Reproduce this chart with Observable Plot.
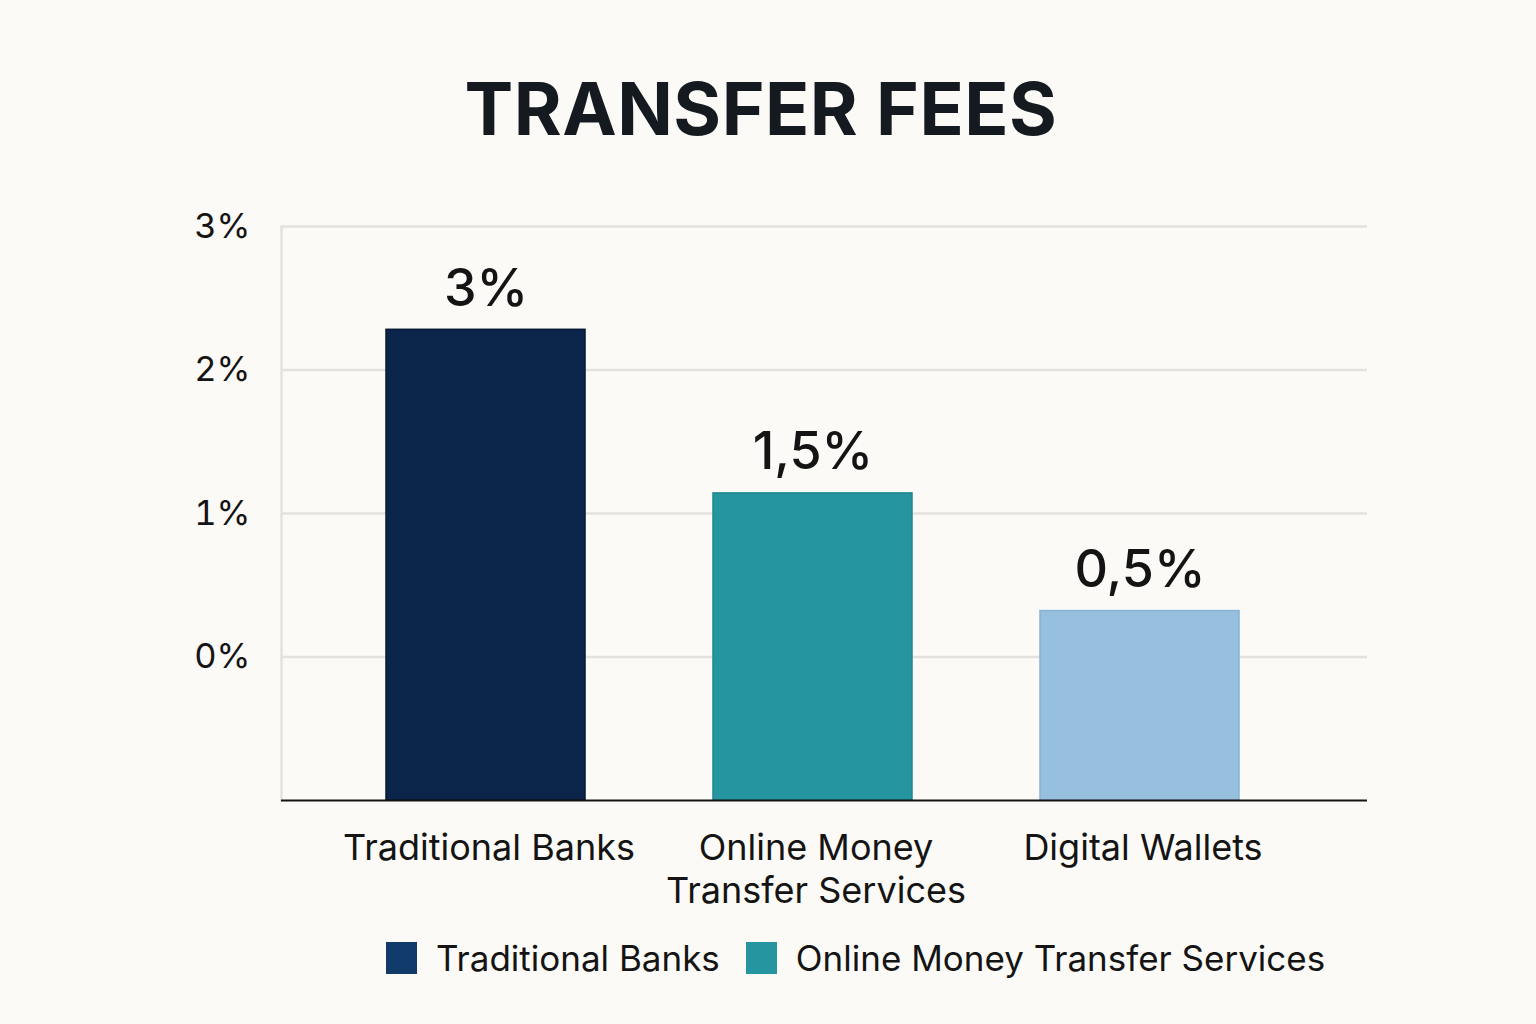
<!DOCTYPE html>
<html><head><meta charset="utf-8">
<script src="https://cdn.jsdelivr.net/npm/d3@7"></script>
<script src="https://cdn.jsdelivr.net/npm/@observablehq/plot@0.6"></script>
<style>
html,body{margin:0;padding:0;background:#fbfaf7;}
body{width:1536px;height:1024px;overflow:hidden;position:relative;font-family:Inter,"Noto Sans",sans-serif;color:#141414;}
#title{position:absolute;top:72px;left:-7px;width:1536px;text-align:center;font-size:73px;line-height:73px;font-weight:700;letter-spacing:0.5px;color:#141a20;}
#chart{position:absolute;top:180px;left:0;}
#legend{position:absolute;top:938px;left:386px;display:flex;align-items:center;font-size:35px;line-height:40px;color:#141414;}
.item{display:flex;align-items:center;margin-right:26px;}
.sw{width:31px;height:32px;margin-right:19px;}
</style>
</head><body>
<div id="title">TRANSFER FEES</div>
<div id="chart"></div>
<div id="legend"></div>
<script>
const categories = ["Traditional Banks", "Online Money Transfer Services", "Digital Wallets"];
const xLabels = ["Traditional Banks", "Online Money\nTransfer Services", "Digital Wallets"];
const values = [2.28, 1.14, 0.32];
const valueLabels = ["3%", "1,5%", "0,5%"];
const barColors = ["#0b2449", "#2596a0", "#97bfde"];
const barStrokes = ["#061830", "#1f8790", "#86b2d4"];
const yTicks = [0, 1, 2, 3];
const yTickLabels = ["0%", "1%", "2%", "3%"];
const legendLabels = ["Traditional Banks", "Online Money Transfer Services"];
const legendColors = ["#103a6a", "#2596a0"];
const baseline = -1;

const data = categories.map((c, i) => ({cat: c, value: values[i], label: valueLabels[i], fill: barColors[i], stroke: barStrokes[i]}));

const plot = Plot.plot({
  width: 1536,
  height: 740,
  marginLeft: 281,
  marginRight: 169,
  marginTop: 46,
  marginBottom: 120,
  style: {background: "transparent", fontFamily: "Inter, 'Noto Sans', sans-serif", color: "#141414"},
  x: {domain: categories, range: [322.5, 1303.5], paddingInner: 0.39, paddingOuter: 0.195, label: null},
  y: {domain: [baseline, 3], label: null},
  marks: [
    Plot.ruleY(yTicks, {stroke: "#e4e2de", strokeWidth: 2.5}),
    Plot.frame({anchor: "left", stroke: "#e4e2de", strokeWidth: 2.5}),
    Plot.axisY(yTicks, {tickSize: 0, tickPadding: 31, fontSize: 34.5, tickFormat: (d) => yTickLabels[yTicks.indexOf(d)], fill: "#141414"}),
    Plot.rectY(data, {x: "cat", y1: baseline, y2: "value", fill: "fill", stroke: "stroke", strokeWidth: 1.5}),
    Plot.ruleY([baseline], {stroke: "#141414", strokeWidth: 2}),
    Plot.text(data, {x: "cat", y: "value", text: "label", lineAnchor: "bottom", dy: -24, fontSize: 52, fontWeight: 500, fill: "#141414"}),
    Plot.axisX({tickSize: 0, tickPadding: 30, fontSize: 36, lineHeight: 1.17, dx: 3, tickFormat: (d) => xLabels[categories.indexOf(d)], fill: "#141414"})
  ]
});
document.getElementById("chart").appendChild(plot);

const lg = document.getElementById("legend");
legendLabels.forEach((l, i) => {
  const it = document.createElement("div");
  it.className = "item";
  const sw = document.createElement("div");
  sw.className = "sw";
  sw.style.background = legendColors[i];
  const t = document.createElement("span");
  t.textContent = l;
  it.appendChild(sw); it.appendChild(t);
  lg.appendChild(it);
});
</script>
</body></html>
